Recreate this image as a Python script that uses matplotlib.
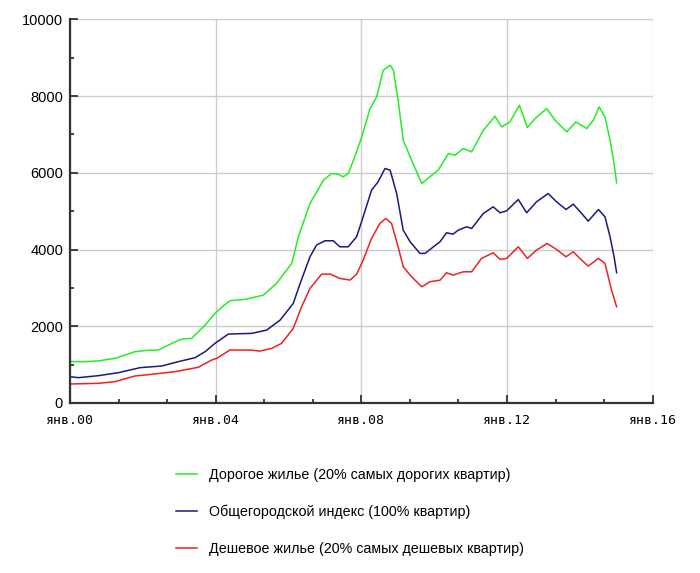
import matplotlib.pyplot as plt
from matplotlib.ticker import MultipleLocator, FixedLocator

# years since Jan 2000
t_exp = [0.0, 0.4, 0.8, 1.24, 1.78, 2.1, 2.43, 2.6, 3.07, 3.34, 3.71, 3.98, 4.2, 4.39, 4.8, 5.31,
         5.67, 6.09, 6.27, 6.59, 6.96, 7.18, 7.37, 7.5, 7.64, 7.82, 8.01, 8.24, 8.42, 8.6, 8.79,
         8.88, 9.01, 9.15, 9.38, 9.66, 9.88, 10.11, 10.39, 10.57, 10.8, 11.03, 11.35, 11.67,
         11.85, 12.08, 12.34, 12.56, 12.77, 13.09, 13.32, 13.64, 13.89, 14.19, 14.37, 14.53,
         14.69, 14.83, 14.94, 15.01]
v_exp = [1080, 1076, 1100, 1163, 1337, 1370, 1380, 1467, 1667, 1684, 2031, 2335, 2520, 2665, 2700, 2812,
         3117, 3638, 4331, 5200, 5807, 5981, 5964, 5894, 5981, 6415, 6935, 7674, 7977, 8672, 8802,
         8672, 7890, 6849, 6328, 5721, 5894, 6068, 6502, 6458, 6632, 6545, 7109, 7474,
         7196, 7326, 7760, 7179, 7413, 7674, 7370, 7066, 7326, 7153, 7370, 7717,
         7457, 6849, 6241, 5738]

t_all = [0.0, 0.23, 0.78, 1.33, 1.92, 2.52, 2.97, 3.43, 3.71, 3.98, 4.35, 4.99, 5.4, 5.77, 6.13,
         6.32, 6.59, 6.77, 7.0, 7.23, 7.41, 7.64, 7.87, 8.05, 8.28, 8.46, 8.65, 8.79, 8.97, 9.15,
         9.34, 9.61, 9.75, 9.98, 10.16, 10.34, 10.52, 10.66, 10.89, 11.03, 11.35, 11.62, 11.81,
         11.99, 12.31, 12.54, 12.81, 13.13, 13.36, 13.62, 13.82, 14.05, 14.23, 14.51, 14.69,
         14.83, 14.94, 15.01]
v_all = [686, 660, 712, 790, 920, 964, 1076, 1180, 1337, 1554, 1797, 1814, 1900, 2161, 2595,
         3117, 3811, 4115, 4228, 4228, 4071, 4071, 4331, 4852, 5547, 5764, 6111, 6068, 5460, 4505,
         4201, 3898, 3898, 4071, 4201, 4436, 4401, 4505, 4592, 4549, 4940, 5113, 4957,
         5009, 5304, 4957, 5243, 5460, 5243, 5043, 5182, 4940, 4740, 5043, 4852,
         4331, 3811, 3394]

t_cheap = [0.0, 0.78, 1.24, 1.78, 2.24, 2.88, 3.52, 3.89, 4.03, 4.39, 4.94, 5.22, 5.54, 5.81, 6.13,
           6.36, 6.59, 6.91, 7.14, 7.41, 7.69, 7.87, 8.05, 8.28, 8.51, 8.67, 8.83, 9.01, 9.15,
           9.38, 9.66, 9.88, 10.16, 10.34, 10.52, 10.8, 11.03, 11.3, 11.62, 11.81, 11.99, 12.31,
           12.56, 12.81, 13.1, 13.36, 13.62, 13.82, 14.0, 14.23, 14.51, 14.69, 14.78, 14.87, 15.01]
v_cheap = [495, 512, 556, 703, 747, 816, 929, 1120, 1163, 1380, 1380, 1354, 1424, 1554, 1945,
           2508, 2986, 3359, 3359, 3247, 3203, 3359, 3724, 4289, 4679, 4810, 4679, 4071, 3550,
           3290, 3029, 3159, 3200, 3394, 3333, 3420, 3420, 3768, 3915, 3742, 3768, 4071,
           3768, 3984, 4158, 4002, 3811, 3941, 3768, 3568, 3768, 3638, 3290, 2943, 2508]

labels = ['Дорогое жилье (20% самых дорогих квартир)',
          'Общегородской индекс (100% квартир)',
          'Дешевое жилье (20% самых дешевых квартир)']
colors = ['#22ee22', '#1a1a80', '#ee2222']
x_labels = ['янв.00', 'янв.04', 'янв.08', 'янв.12', 'янв.16']

fig = plt.figure(figsize=(7, 5.73), dpi=100)
ax = fig.add_axes([0.1, 0.2967, 0.8324, 0.6696])

ax.plot(t_exp, v_exp, color=colors[0], lw=1.1, label=labels[0])
ax.plot(t_all, v_all, color=colors[1], lw=1.1, label=labels[1])
ax.plot(t_cheap, v_cheap, color=colors[2], lw=1.1, label=labels[2])

ax.set_xlim(0, 16)
ax.set_ylim(0, 10000)
ax.xaxis.set_major_locator(FixedLocator([0, 4, 8, 12, 16]))
ax.xaxis.set_minor_locator(MultipleLocator(4 / 3))
ax.set_xticklabels(x_labels, family='DejaVu Sans Mono', fontsize=9.5)
ax.yaxis.set_major_locator(MultipleLocator(2000))
ax.yaxis.set_minor_locator(MultipleLocator(1000))
for lb in ax.get_yticklabels():
    lb.set_family('Liberation Sans')
    lb.set_fontsize(10.5)

ax.tick_params(which='both', direction='in', color='#333333', width=1.3)
ax.tick_params(which='major', length=6, pad=5)
ax.tick_params(axis='x', which='major', pad=8)
ax.tick_params(which='minor', length=3)
ax.grid(True, which='major', color='#cccccc', lw=1)
ax.set_axisbelow(True)
for s in ['top', 'right']:
    ax.spines[s].set_visible(False)
for s in ['left', 'bottom']:
    ax.spines[s].set_color('#333333')
    ax.spines[s].set_linewidth(1.6)

fig.legend(loc='upper left', bbox_to_anchor=(0.2407, 0.1955), frameon=False, borderpad=0,
           handlelength=1.5, handletextpad=0.8, labelspacing=1.6,
           prop={'family': 'Liberation Sans', 'size': 10.3})

fig.savefig('out.png')
